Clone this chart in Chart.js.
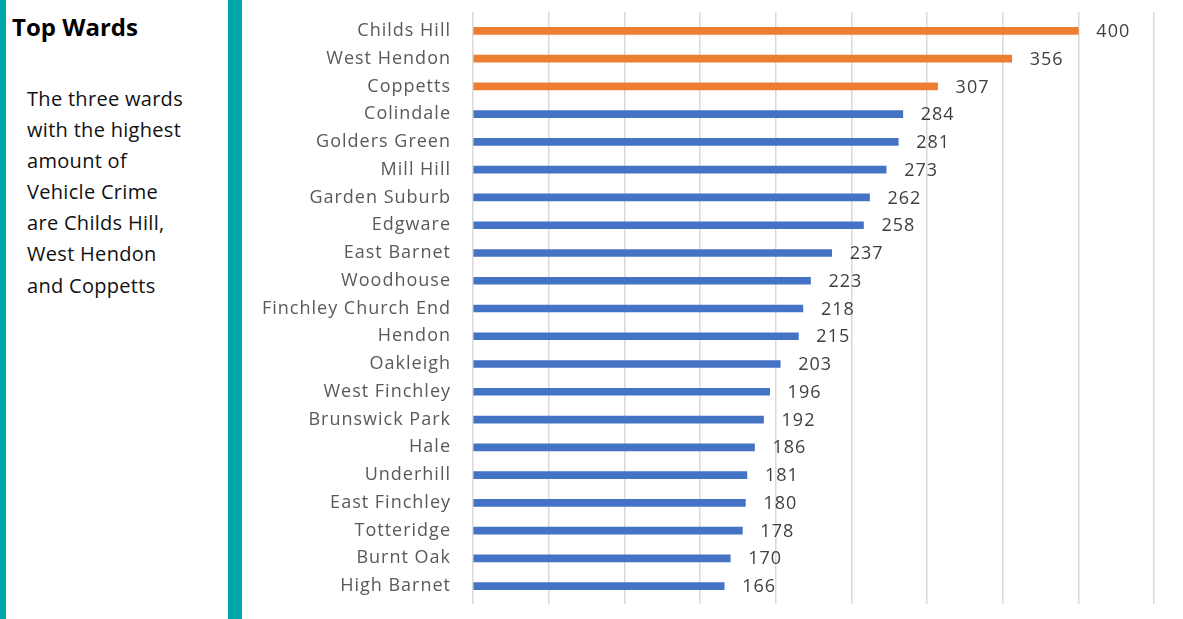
<!DOCTYPE html>
<html>
<head>
<meta charset="utf-8">
<script src="https://cdn.jsdelivr.net/npm/chart.js@4"></script>
<style>
  html, body { margin: 0; padding: 0; background: #fff; }
  body { width: 1183px; height: 619px; position: relative; overflow: hidden; font-family: "Open Sans", sans-serif; }
  .stripe { position: absolute; background: #00a6a9; }
  #title { position: absolute; left: 12px; top: 15px; font-weight: bold; font-size: 24px; line-height: 24px; color: #000; }
  #blurb { position: absolute; left: 27px; top: 83px; font-size: 20px; line-height: 31.1px; color: #111; letter-spacing: 0.3px; }
  #chartBox { position: absolute; left: 242px; top: 0; width: 941px; height: 619px; }
</style>
</head>
<body>
<div class="stripe" style="left:0;top:0;width:6px;height:619px"></div>
<div class="stripe" style="left:228px;top:0;width:14px;height:619px"></div>
<div id="title">Top Wards</div>
<div id="blurb">The three wards<br>with the highest<br>amount of<br>Vehicle Crime<br>are Childs Hill,<br>West Hendon<br>and Coppetts</div>
<div id="chartBox"><canvas id="wardChart"></canvas></div>
<script>
const wards = ['Childs Hill', 'West Hendon', 'Coppetts', 'Colindale', 'Golders Green', 'Mill Hill',
  'Garden Suburb', 'Edgware', 'East Barnet', 'Woodhouse', 'Finchley Church End', 'Hendon',
  'Oakleigh', 'West Finchley', 'Brunswick Park', 'Hale', 'Underhill', 'East Finchley',
  'Totteridge', 'Burnt Oak', 'High Barnet'];
const crimes = [400, 356, 307, 284, 281, 273, 262, 258, 237, 223, 218, 215, 203, 196, 192, 186, 181, 180, 178, 170, 166];
const topWards = ['Childs Hill', 'West Hendon', 'Coppetts'];

const ORANGE = '#ed7d31';
const BLUE = '#4472c4';

// Excel draws its labels a little spaced out
const spacing = {
  id: 'spacing',
  beforeUpdate(chart) { chart.ctx.letterSpacing = '1px'; },
  beforeDraw(chart) { chart.ctx.letterSpacing = '1px'; }
};

const valueLabels = {
  id: 'valueLabels',
  afterDatasetsDraw(chart) {
    const ctx = chart.ctx;
    const meta = chart.getDatasetMeta(0);
    ctx.save();
    ctx.letterSpacing = '1px';
    ctx.font = '18px "Open Sans"';
    ctx.fillStyle = '#404040';
    ctx.textAlign = 'left';
    ctx.textBaseline = 'middle';
    meta.data.forEach((bar, i) => {
      ctx.fillText(crimes[i], bar.x + 18, bar.y + 1);
    });
    ctx.restore();
  }
};

new Chart(document.getElementById('wardChart'), {
  type: 'bar',
  data: {
    labels: wards,
    datasets: [{
      data: crimes,
      backgroundColor: wards.map(w => topWards.includes(w) ? ORANGE : BLUE),
      barThickness: 7
    }]
  },
  options: {
    indexAxis: 'y',
    responsive: true,
    maintainAspectRatio: false,
    animation: false,
    layout: { padding: { top: 12, bottom: 15, right: 29, left: 0 } },
    plugins: { legend: { display: false }, tooltip: { enabled: false } },
    scales: {
      x: {
        min: 0, max: 450,
        ticks: { display: false, stepSize: 50 },
        grid: { color: '#d9d9d9', lineWidth: 1.5, drawTicks: true, tickLength: 4 },
        border: { display: false }
      },
      xTop: {
        type: 'linear', position: 'top', axis: 'x',
        min: 0, max: 450,
        ticks: { display: false, stepSize: 50 },
        grid: { color: '#d9d9d9', lineWidth: 1.5, drawOnChartArea: false, drawTicks: true, tickLength: 5 },
        border: { display: false }
      },
      y: {
        grid: { display: false, drawTicks: true, tickLength: 22 },
        border: { display: false },
        ticks: { color: '#595959', font: { family: 'Open Sans', size: 18 }, padding: 0, autoSkip: false },
        afterFit(scale) { scale.width = 231; }
      }
    }
  },
  plugins: [spacing, valueLabels]
});
</script>
</body>
</html>
